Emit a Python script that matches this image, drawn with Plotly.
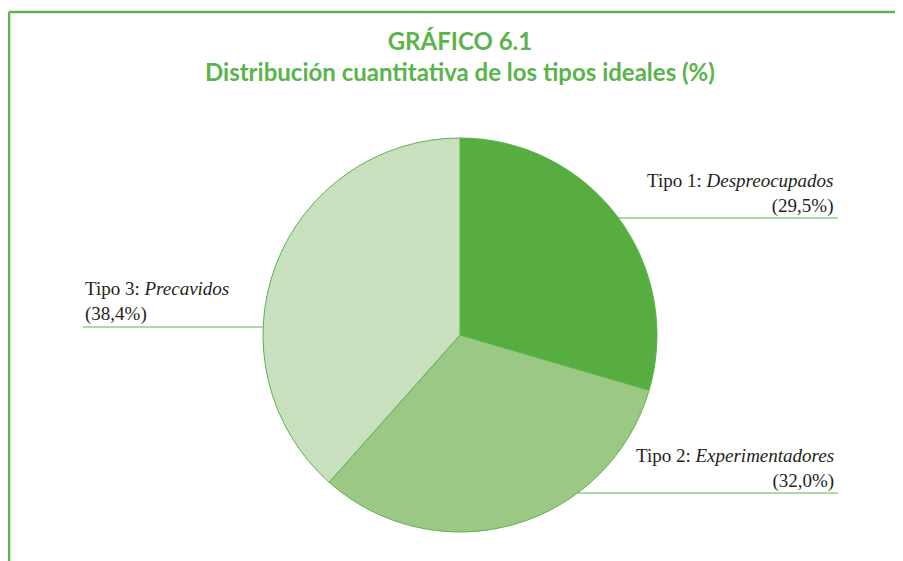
import plotly.graph_objects as go

categories = ["Tipo 1: <i>Despreocupados</i>", "Tipo 2: <i>Experimentadores</i>", "Tipo 3: <i>Precavidos</i>"]
values = [29.5, 32.0, 38.4]
value_labels = ["(29,5%)", "(32,0%)", "(38,4%)"]
colors = ["#58ad41", "#9cc886", "#c9e0bf"]
green = "#5ab34b"

# page body has an 8px margin, so the figure starts at (8, 8) in the window
OFF = 8
W, H = 903 - OFF, 561 - OFF
cx, cy, r = 460, 335, 197

def px(x):
    return (x - OFF) / W

def py(y):
    return 1 - (y - OFF) / H

fig = go.Figure(go.Pie(
    values=values,
    labels=categories,
    sort=False,
    direction="clockwise",
    rotation=0,
    textinfo="none",
    hoverinfo="label+value",
    marker=dict(colors=colors, line=dict(color=green, width=1)),
    domain=dict(x=[px(cx - r), px(cx + r)], y=[py(cy + r), py(cy - r)]),
    showlegend=False,
))

shapes = [
    # frame
    dict(type="line", xref="paper", yref="paper", x0=px(9), x1=px(9), y0=py(12), y1=py(561), line=dict(color=green, width=2.5)),
    dict(type="line", xref="paper", yref="paper", x0=px(9), x1=px(903), y0=py(12), y1=py(12), line=dict(color=green, width=2.5)),
    # leader lines
    dict(type="line", xref="paper", yref="paper", x0=px(618), x1=px(838), y0=py(218), y1=py(218), line=dict(color=green, width=1.2)),
    dict(type="line", xref="paper", yref="paper", x0=px(578), x1=px(838), y0=py(493), y1=py(493), line=dict(color=green, width=1.2)),
    dict(type="line", xref="paper", yref="paper", x0=px(83), x1=px(263), y0=py(327), y1=py(327), line=dict(color=green, width=1.2)),
]

label_pos = [
    (836, 193, "right"),
    (836, 468, "right"),
    (83, 302, "left"),
]
annotations = []
for cat, vl, (x, y, al) in zip(categories, value_labels, label_pos):
    annotations.append(dict(
        xref="paper", yref="paper", x=px(x), y=py(y), xanchor=al, yanchor="middle",
        text=cat + "<br>" + vl, align=al, showarrow=False,
        font=dict(family="Liberation Serif", size=19, color="#231f20"),
    ))

annotations.append(dict(
    xref="paper", yref="paper", x=px(460), y=py(56), xanchor="center", yanchor="middle",
    text="<b>GRÁFICO 6.1</b><br><b>Distribución cuantitativa de los tipos ideales (%)</b>",
    showarrow=False, align="center",
    font=dict(family="Lato", size=24, color=green),
))

fig.update_layout(
    width=W, height=H,
    margin=dict(l=0, r=0, t=0, b=0),
    paper_bgcolor="white", plot_bgcolor="white",
    shapes=shapes, annotations=annotations,
)

fig.write_html("out.html")
